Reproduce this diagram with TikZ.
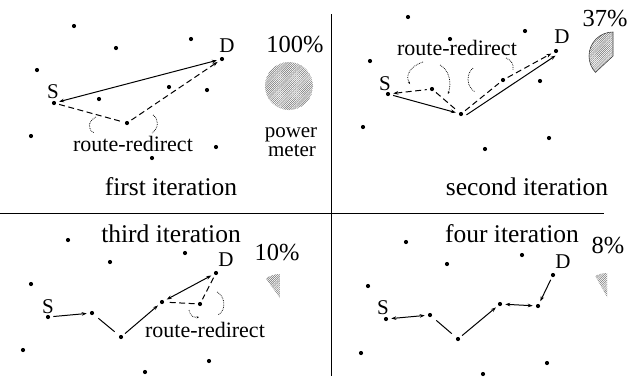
\documentclass[tikz,border=0pt]{standalone}
\usepackage{fontspec}
\setmainfont{Liberation Serif}
\usetikzlibrary{arrows.meta,patterns.meta}
\begin{document}
\begin{tikzpicture}[x=1pt,y=-1pt,
  dot/.style={circle,fill=black,inner sep=0pt,minimum size=4.2pt},
  lbl/.style={anchor=base,inner sep=0pt,font=\fontsize{21}{24}\selectfont},
  ttl/.style={anchor=base,inner sep=0pt,font=\fontsize{25.5}{30}\selectfont},
  rr/.style={anchor=base,inner sep=0pt,font=\fontsize{22}{26}\selectfont},
  pw/.style={anchor=base,inner sep=0pt,font=\fontsize{21}{24}\selectfont},
  pct/.style={anchor=base,inner sep=0pt,font=\fontsize{24.5}{28}\selectfont},
  sol/.style={line width=1pt,shorten >=3pt,shorten <=3pt},
  dsh/.style={line width=1pt,dash pattern=on 6pt off 3.5pt,shorten >=3pt,shorten <=3pt},
  rdir/.style={line width=0.75pt,densely dotted},
  hatch/.style={pattern={Lines[angle=45,distance=1.5pt,line width=0.5pt]},pattern color=black!55},
  >={Stealth[length=5pt,width=3.6pt]}]
\useasboundingbox (0,0) rectangle (629,376);
\fill[white] (0,0) rectangle (629,376);
% dividers
\coordinate (vt) at (331,14);
\coordinate (vb) at (331,376);
\coordinate (hl) at (0,213);
\coordinate (hr) at (604,213);
\draw[line width=0.9pt] (vt) -- (vb);
\draw[line width=0.9pt] (hl) -- (hr);

% ---------- first iteration ----------
\foreach \p/\n in {{(74,26)}/q1a,{(116,48)}/q1b,{(191,39)}/q1c,{(37,70)}/q1d,{(99,99)}/q1e,{(169,87)}/q1f,{(207,90)}/q1g,{(31,136)}/q1h,{(216,147)}/q1i,{(152,158)}/q1j}
  \node[dot] (\n) at \p {};
\node[dot] (S1) at (54,103) {};
\node[dot] (D1) at (222,59) {};
\node[dot] (R1) at (127,123) {};
\node[lbl] (S1l) at (53,98) {S};
\node[lbl] (D1l) at (227,52) {D};
\draw[sol,<->] (S1) -- (D1);
\draw[dsh] (S1) -- (R1);
\draw[dsh,->] (R1) -- (D1);
\draw[rdir] (96,117) .. controls (88,121) and (87,129) .. (94,133);
\draw[rdir] (153,115) .. controls (159,119) and (159,128) .. (152,133);
\node[rr] (rr1) at (133,151) {route-redirect};
\node[ttl] (t1) at (171,195) {first iteration};
\node[pct] (p1) at (295,52) {100\%};
\node[circle,minimum size=48pt,inner sep=0pt,hatch] (m1) at (289,86) {};
\node[pw] (pw) at (291,137) {power};
\node[pw] (mt) at (292,156) {meter};

% ---------- second iteration ----------
\foreach \p/\n in {{(408,17)}/q2a,{(450,39)}/q2b,{(525,31)}/q2c,{(370,61)}/q2d,{(540,81)}/q2g,{(363,127)}/q2h,{(549,138)}/q2i,{(485,149)}/q2j}
  \node[dot] (\n) at \p {};
\node[dot] (S2) at (388,94) {};
\node[dot] (D2) at (556,51) {};
\node[dot] (N2a) at (432,89) {};
\node[dot] (R2) at (461,114) {};
\node[dot] (N2b) at (503,80) {};
\node[lbl] (S2l) at (385,90) {S};
\node[lbl] (D2l) at (562,43) {D};
\draw[dsh,<-] (S2) -- (N2a);
\draw[dsh] (N2a) -- (R2);
\draw[sol,->] (S2) -- (R2);
\draw[dsh] (R2) -- (N2b);
\draw[dsh,->] (N2b) -- (D2);
\draw[sol,->] ([shift={(3,2.5)}]R2.center) -- ([shift={(2,3)}]D2.center);
\draw[rdir,-{Stealth[length=2.5pt,width=2pt]}] (423,62) .. controls (410,66) and (405,76) .. (410,84);
\draw[rdir,-{Stealth[length=2.5pt,width=2pt]}] (440,65) .. controls (449,70) and (452,82) .. (448,94);
\draw[rdir] (473,68) .. controls (466,74) and (466,86) .. (475,92);
\draw[rdir] (506,58) .. controls (511,60) and (514,64) .. (513,70);
\node[rr] (rr2) at (457,55) {route-redirect};
\node[ttl] (t2) at (527,195) {second iteration};
\node[pct] (p2) at (605,26) {37\%};
\coordinate (c2) at (613,56);
\draw[hatch,draw=black!75,line width=0.6pt] (c2) -- ++(0,-24) arc[start angle=-90,end angle=-223,radius=24] -- cycle;

% ---------- third iteration ----------
\foreach \p/\n in {{(68,240)}/q3a,{(110,262)}/q3b,{(185,253)}/q3c,{(31,284)}/q3d,{(23,350)}/q3h,{(209,361)}/q3i,{(145,372)}/q3j}
  \node[dot] (\n) at \p {};
\node[dot] (S3) at (48,317) {};
\node[dot] (D3) at (216,273) {};
\node[dot] (A3) at (92,313) {};
\node[dot] (B3) at (121,337) {};
\node[dot] (C3) at (162,302) {};
\node[dot] (E3) at (200,304) {};
\node[lbl] (S3l) at (48,313) {S};
\node[lbl] (D3l) at (226,266) {D};
\draw[sol,->] (S3) -- (A3);
\draw[sol,shorten >=6pt,shorten <=6pt] (A3) -- (B3);
\draw[sol,->] (B3) -- (C3);
\draw[sol,<->] (D3) -- (C3);
\draw[dsh] (D3) -- (E3);
\draw[dsh] (E3) -- (C3);
\draw[rdir,-{Stealth[length=2.5pt,width=2pt]}] (189,310) .. controls (190,316) and (194,318) .. (199,317);
\draw[rdir] (217,292) .. controls (225,296) and (227,310) .. (218,315);
\node[rr] (rr3) at (205,337) {route-redirect};
\node[ttl] (t3) at (171,242) {third iteration};
\node[pct] (p3) at (277,260) {10\%};
\coordinate (c3) at (280,298);
\fill[hatch] (c3) -- ++(0,-24) arc[start angle=-90,end angle=-126,radius=24] -- cycle;

% ---------- four iteration ----------
\foreach \p/\n in {{(406,242)}/q4a,{(447,264)}/q4b,{(522,255)}/q4c,{(368,286)}/q4d,{(361,353)}/q4h,{(547,363)}/q4i,{(483,374)}/q4j}
  \node[dot] (\n) at \p {};
\node[dot] (S4) at (386,319) {};
\node[dot] (D4) at (553,275) {};
\node[dot] (A4) at (430,315) {};
\node[dot] (B4) at (458,339) {};
\node[dot] (C4) at (500,304) {};
\node[dot] (E4) at (538,306) {};
\node[lbl] (S4l) at (383,314) {S};
\node[lbl] (D4l) at (563,268) {D};
\draw[sol,<->] (S4) -- (A4);
\draw[sol,shorten >=6pt,shorten <=6pt] (A4) -- (B4);
\draw[sol,->] (B4) -- (C4);
\draw[sol,<->] (C4) -- (E4);
\draw[sol,->] (D4) -- (E4);
\node[ttl] (t4) at (512,242) {four iteration};
\node[pct] (p4) at (608,253) {8\%};
\coordinate (c4) at (607,297);
\fill[hatch] (c4) -- ++(0,-24) arc[start angle=-90,end angle=-119,radius=24] -- cycle;
\end{tikzpicture}
\end{document}
